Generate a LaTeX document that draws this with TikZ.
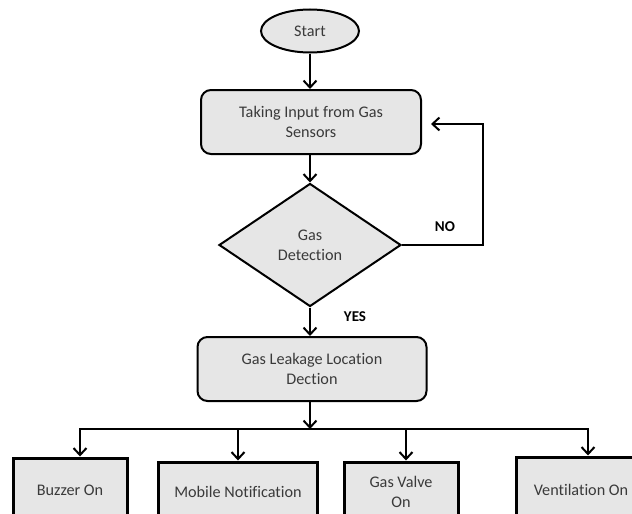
\documentclass[tikz,border=0pt]{standalone}
\usepackage{fontspec}
\setmainfont{Carlito}[Ligatures={NoCommon,NoContextual}]
\usetikzlibrary{arrows.meta,shapes.geometric}
\definecolor{boxfill}{HTML}{E6E6E6}
\definecolor{txt}{HTML}{3A3A3A}
\begin{document}
\begin{tikzpicture}[x=1pt,y=-1pt,
  every node/.style={font=\fontsize{16.2}{20}\selectfont, text=txt},
  rbox/.style={draw=black, line width=2pt, fill=boxfill, rounded corners=10pt, minimum height=64pt, align=center, inner sep=0pt},
  sbox/.style={draw=black, line width=3pt, fill=boxfill, align=center, inner sep=0pt},
  arr/.style={line width=2pt, -{Straight Barb[length=7pt,width=13pt,line width=2pt]}},
  conn/.style={line width=2pt, line cap=rect},
  lbl/.style={font=\bfseries\fontsize{15}{17}\selectfont, text=black}]
\useasboundingbox (0,0) rectangle (632,514);
\clip (0,0) rectangle (632,514);

\node[ellipse, draw=black, line width=2pt, fill=boxfill, minimum width=98pt, minimum height=43pt, inner sep=0pt] (start) at (310,31) {Start};
\node[rbox, minimum width=220pt] (box1) at (311,122) {Taking Input from Gas\\Sensors};
\node[diamond, draw=black, line width=2pt, fill=boxfill, minimum width=182pt, minimum height=123pt, inner sep=0pt, align=center] (dec) at (310,245) {Gas\\Detection};
\node[rbox, minimum width=229pt] (box2) at (312,369) {Gas Leakage Location\\Dection};

\node[sbox, minimum width=114pt, minimum height=64pt] (buzzer) at (70,490) {Buzzer On};
\node[sbox, minimum width=159pt, minimum height=60pt] (mobile) at (238,492) {Mobile Notification};
\node[sbox, minimum width=114pt, minimum height=60pt] (valve) at (401,492) {Gas Valve\\On};
\node[sbox, minimum width=130pt, minimum height=66pt] (vent) at (581,490) {Ventilation On};

\node[lbl] (no) at (445,227) {NO};
\node[lbl] (yes) at (355,317) {YES};

\draw[arr] (start.south) -- (start.south |- box1.north);
\draw[arr] (box1.south -| dec.north) -- (dec.north);
\draw[arr] (dec.south) -- (dec.south |- box2.north);

\coordinate (fbtop) at (483,124);
\coordinate (fbend) at (431,124);
\draw[arr] (dec.east) -| (fbtop) -- (fbend);

\coordinate (j) at (310,429);
\coordinate (bl) at (80,429);
\coordinate (br) at (588,429);
\coordinate (bm) at (238,429);
\coordinate (bv) at (406,429);
\draw[arr] (box2.south -| j) -- (j);
\draw[conn] (bl) -- (br);
\draw[arr] (bl) -- (buzzer.north -| bl);
\draw[arr] (bm) -- (mobile.north -| bm);
\draw[arr] (bv) -- (valve.north -| bv);
\draw[arr] (br) -- (vent.north -| br);
\end{tikzpicture}
\end{document}
